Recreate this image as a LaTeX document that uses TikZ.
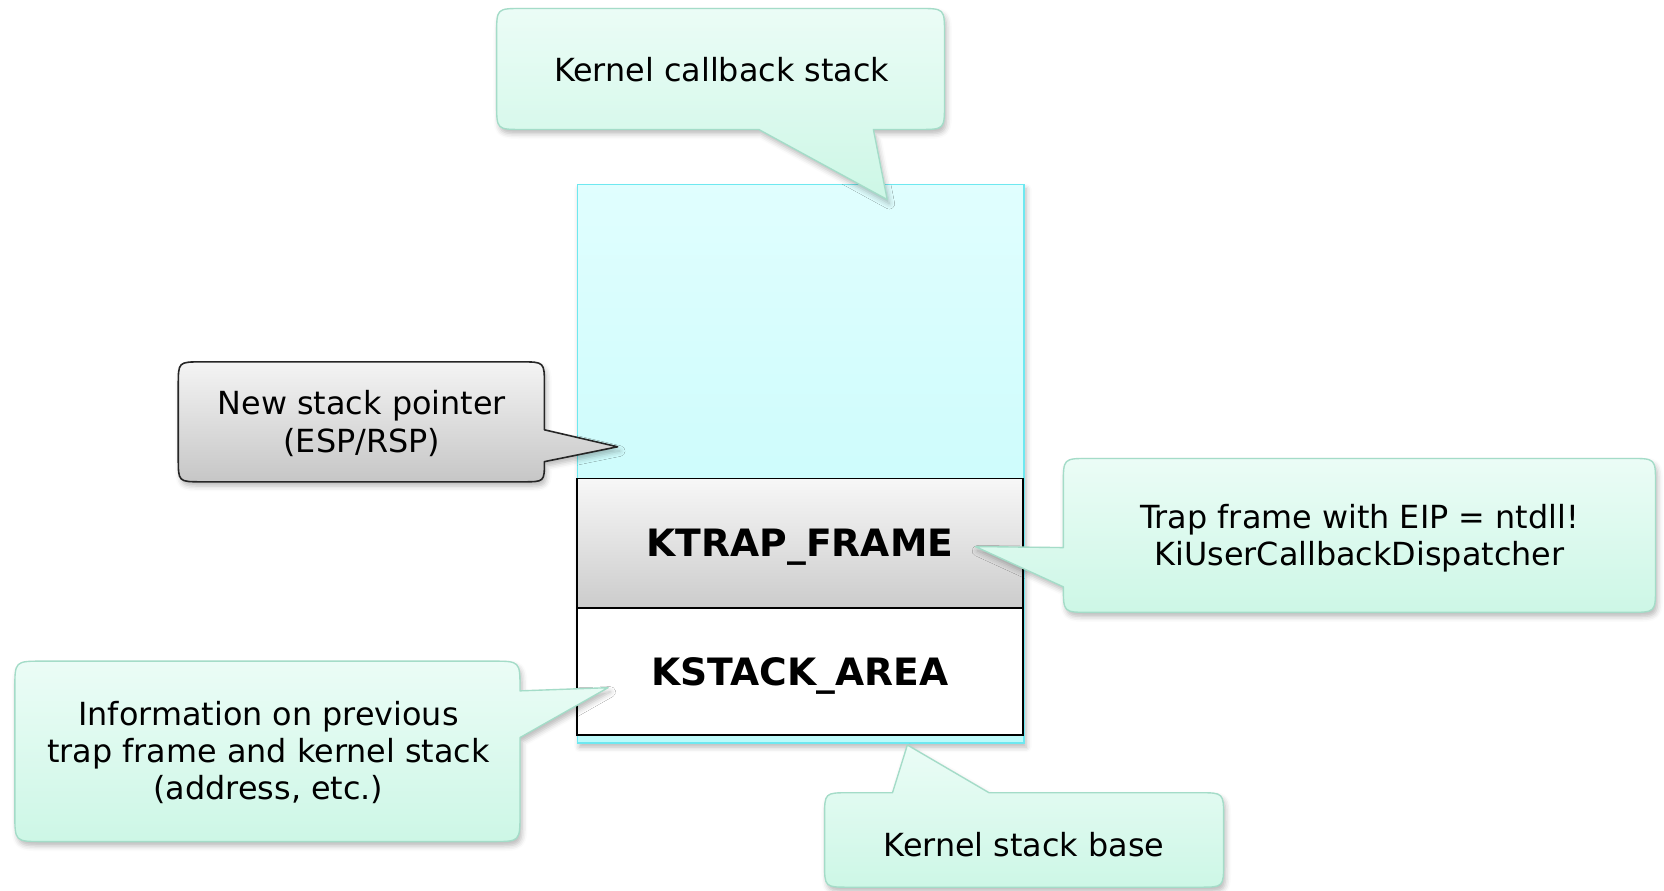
\documentclass[tikz,border=0pt]{standalone}
\usepackage{fontspec}
\setmainfont{DejaVu Sans}
\usetikzlibrary{shadows.blur}
\definecolor{mintTop}{HTML}{EBFCF6}
\definecolor{mintBot}{HTML}{CDF7E6}
\definecolor{mintLine}{HTML}{A4DCC8}
\definecolor{cyanTop}{HTML}{E0FEFE}
\definecolor{cyanBot}{HTML}{BEFAFA}
\definecolor{cyanLine}{HTML}{6EE8F0}
\definecolor{grayTop}{HTML}{F4F4F4}
\definecolor{grayBot}{HTML}{C6C6C6}
\begin{document}
\begin{tikzpicture}[x=1pt,y=-1pt,
  shad/.style={blur shadow={shadow xshift=2pt,shadow yshift=-4pt,shadow blur radius=5pt,shadow opacity=28}},
  mintcall/.style={top color=mintTop,bottom color=mintBot,draw=mintLine,line width=1.3pt,line join=round,shad},
  graycall/.style={top color=grayTop,bottom color=grayBot,draw=black!85,line width=1.5pt,line join=round,shad},
  txt/.style={font=\fontsize{30}{35}\selectfont,align=center,text=black,inner sep=0pt},
  btxt/.style={font=\fontsize{35.5}{40}\selectfont\bfseries,text=black,inner sep=0pt},
  stackcell/.style={draw=black,line width=1.5pt}]
\useasboundingbox (0,0) rectangle (1568,839);

% stack region
\path[top color=cyanTop,bottom color=cyanBot,draw=cyanLine,line width=1.3pt,shad]
  (544,174) rectangle (965,700);
\node[stackcell,top color=grayTop!70!white,bottom color=grayBot!90!white,minimum width=420pt,minimum height=122pt,anchor=north west,inner sep=0pt] (ktrap) at (543,450) {};
\node[stackcell,fill=white,minimum width=420pt,minimum height=120pt,anchor=north west,inner sep=0pt] (kstack) at (543,572) {};
\node[btxt] (ktrapL) at ([yshift=-4pt]ktrap.center) {KTRAP\_FRAME};
\node[btxt] (kstackL) at ([yshift=-4pt]kstack.center) {KSTACK\_AREA};

% callout tips
\coordinate (tipTop) at (836,188);
\coordinate (tipSP) at (582,421);
\coordinate (tipTrap) at (919,515);
\coordinate (tipInfo) at (573,648);
\coordinate (tipBase) at (855,702);

% top callout
\path[mintcall] (492,8) -- (866,8) .. controls (890,8) .. (890,32) -- (890,98)
  .. controls (890,122) .. (866,122) -- (823,122) -- (tipTop) -- (715,122) -- (492,122)
  .. controls (468,122) .. (468,98) -- (468,32) .. controls (468,8) .. (492,8) -- cycle;
\node[txt] (cbstack) at (680,66) {Kernel callback stack};

% gray callout
\path[graycall] (190,341) -- (491,341) .. controls (513,341) .. (513,363) -- (513,405)
  -- (tipSP) -- (513,435) .. controls (513,454) .. (493,454) -- (190,454)
  .. controls (168,454) .. (168,432) -- (168,363) .. controls (168,341) .. (190,341) -- cycle;
\node[txt] (newsp) at (341,399) {New stack pointer\\(ESP/RSP)};

% right callout
\path[mintcall] (1026,432) -- (1536,432) .. controls (1560,432) .. (1560,456) -- (1560,553)
  .. controls (1560,577) .. (1536,577) -- (1026,577) .. controls (1002,577) .. (1002,553)
  -- (tipTrap) -- (1002,516) -- (1002,456) .. controls (1002,432) .. (1026,432) -- cycle;
\node[txt] (trapinfo) at (1281,507) {Trap frame with EIP = ntdll!\\KiUserCallbackDispatcher};

% bottom-left callout
\path[mintcall] (40,623) -- (464,623) .. controls (490,623) .. (490,649) -- (490,651)
  -- (tipInfo) -- (490,695) -- (490,767) .. controls (490,793) .. (464,793) -- (40,793)
  .. controls (14,793) .. (14,767) -- (14,649) .. controls (14,623) .. (40,623) -- cycle;
\node[txt] (previnfo) at (253,709) {Information on previous\\trap frame and kernel stack\\(address, etc.)};

% bottom callout
\path[mintcall] (800,747) -- (841,747) -- (tipBase) -- (932,747) -- (1130,747)
  .. controls (1153,747) .. (1153,770) -- (1153,813) .. controls (1153,836) .. (1130,836)
  -- (800,836) .. controls (777,836) .. (777,813) -- (777,770) .. controls (777,747) .. (800,747) -- cycle;
\node[txt] (kbase) at (965,796) {Kernel stack base};
\end{tikzpicture}
\end{document}
